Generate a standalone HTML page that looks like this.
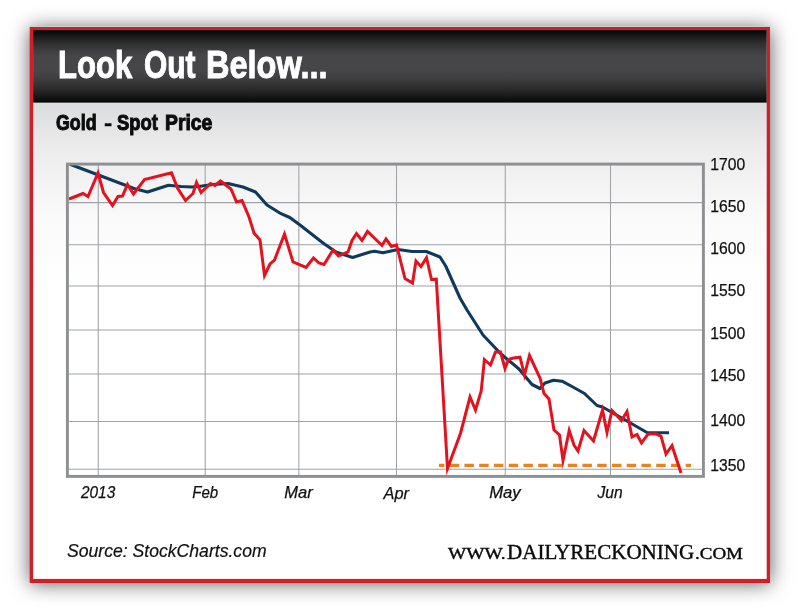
<!DOCTYPE html>
<html lang="en">
<head>
<meta charset="utf-8">
<title>Look Out Below... Gold - Spot Price</title>
<style>
html,body{margin:0;padding:0;background:#fff;}
body{width:800px;height:611px;position:relative;overflow:hidden;font-family:"Liberation Sans",sans-serif;}
#shadow{position:absolute;left:30px;top:27px;width:740px;height:556px;background:#d01f27;box-shadow:0 1.3px 19px 0 rgba(0,0,0,0.65);}
svg{position:absolute;left:0;top:0;}
.t{position:absolute;white-space:nowrap;line-height:1;transform-origin:0 0;}
.ti{top:44.6px;color:#fff;font-weight:bold;font-size:39.5px;-webkit-text-stroke:1.0px #fff;}
.su{top:112.4px;color:#0d0d0d;font-weight:bold;font-size:22.5px;-webkit-text-stroke:1.05px #0d0d0d;}
#src{left:66.8px;top:542.2px;color:#111;font-style:italic;font-size:18.2px;transform:scaleX(0.968);-webkit-text-stroke:0.2px #111;}
.si{color:#0a0a0a;font-family:"Liberation Serif",serif;-webkit-text-stroke:0.4px #0a0a0a;}
</style>
</head>
<body>
<div id="shadow"></div>
<svg width="800" height="611" viewBox="0 0 800 611">
  <defs>
    <linearGradient id="hg" x1="0" y1="0" x2="0" y2="1">
      <stop offset="0" stop-color="#040404"/><stop offset="0.069" stop-color="#161617"/><stop offset="0.138" stop-color="#252526"/>
      <stop offset="0.207" stop-color="#323233"/><stop offset="0.276" stop-color="#3d3d3f"/><stop offset="0.358" stop-color="#464648"/>
      <stop offset="0.551" stop-color="#464648"/><stop offset="0.62" stop-color="#424244"/><stop offset="0.702" stop-color="#3a3a3c"/>
      <stop offset="0.813" stop-color="#2a2a2b"/><stop offset="0.9" stop-color="#1a1a1a"/><stop offset="0.972" stop-color="#0c0c0c"/>
      <stop offset="1" stop-color="#000"/>
    </linearGradient>
    <linearGradient id="bg" gradientUnits="userSpaceOnUse" x1="0" y1="102.6" x2="0" y2="290">
      <stop offset="0" stop-color="#dcddde"/><stop offset="0.02" stop-color="#dcddde"/><stop offset="0.25" stop-color="#ececed"/>
      <stop offset="0.62" stop-color="#fafafa"/><stop offset="1" stop-color="#fff"/>
    </linearGradient>
  </defs>
  <rect x="29.9" y="26" width="740" height="1" fill="#c5d1d1"/>
  <rect x="29.7" y="27" width="740.3" height="555.8" fill="#d01f27"/>
  <rect x="33.1" y="30.1" width="733.6" height="548.8" fill="url(#bg)"/>
  <rect x="33.1" y="30.1" width="733.6" height="72.5" fill="url(#hg)"/>
  <g id="grid" stroke="#a0a2a5" stroke-width="1.05" fill="none">
    <path d="M98.25 165V475M205.2 165V475M298.85 165V475M396.5 165V475M505.25 165V475M610.5 165V475"/>
    <path d="M68 202.6H703M68 244.65H703M68 285.9H703M68 329.9H703M68 374H703M68 421.4H703M68 469.3H703"/>
  </g>
  <path id="support" d="M439 465.4H691" fill="none" stroke="#e8841f" stroke-width="3.1" stroke-dasharray="9.45 5.3" stroke-dashoffset="4.05"/>
  <polyline id="ma" points="70,164.3 134,188.5 147.5,192 168.5,185.2 181,186.5 192,187 202,186 213,184.5 228,183.5 243,187 255.5,192 267,205 281,213.7 289.8,217.5 300,225 323,243 336,252 352.5,257.5 370,252 374.5,251.2 383,252.7 398,249.5 412,251.5 426.3,251.5 440,257 445.7,266 460,298 467,310 483,335 501,354 519,369 532,384.5 540,388.5 545,383 553.5,380.3 562,381.2 572,386.5 584.5,393.5 597,405.5 602.5,407 647,432.5 669,432.8" fill="none" stroke="#0f3a5b" stroke-width="3.1" stroke-linejoin="round"/>
  <polyline id="price" points="69,199 83,193.5 88,196.5 98,173 103.5,192.5 112.5,205.5 118,196.5 122.5,196 127.5,184.5 133.5,194 144.5,179.5 171.5,172.8 177.5,188 185.5,200.5 193,193.5 196.5,182.5 201,192.5 210.5,183.5 215,185.5 220.5,181 231,189 236.5,202 242,200.5 249,217 254,233 260,240 264.5,275.5 270,264 274.5,260 284.5,234 293,262 306,267.5 313.5,258 319,263 324,264.5 333,250 338.5,256 348,252 352,240.5 356.5,233.5 362,240.5 367.5,231.5 382,245.5 386,239 391.5,246.5 396.5,245 405,278.5 412.5,283 416,261 421,266.5 426.5,257.7 431.5,279.5 436.3,279.2 447.5,468.5 460.6,433 470,397 475.5,410 481.2,391 484.4,359.5 490.5,365 495.5,352 500.5,352 505,368.5 508.5,359.5 513.5,358 520,357.2 524.5,375 529.5,355.5 540,378 544,393.5 549,399 554,430 559.5,435 563,460.5 569.2,430.5 574,445 578,451 584,430.5 593.5,441 602.5,410 607,432.5 612,410.5 621.5,420.5 627,411.5 632,437 637,434.5 641.5,443 648,434.2 655.5,433.8 661,436 666,454 672,445.5 681,473" fill="none" stroke="#e2121f" stroke-width="3" stroke-linejoin="miter" stroke-miterlimit="10"/>
  <rect x="67.4" y="164.1" width="636" height="312.3" fill="none" stroke="#8d8f92" stroke-width="2.9"/>
  <g id="ylabels" font-family="'Liberation Sans',sans-serif" font-size="16.6" fill="#111" stroke="#111" stroke-width="0.25">
    <text x="710.3" y="169.5" textLength="34.9" lengthAdjust="spacingAndGlyphs">1700</text>
    <text x="710.3" y="211.8" textLength="34.9" lengthAdjust="spacingAndGlyphs">1650</text>
    <text x="710.3" y="254.1" textLength="34.9" lengthAdjust="spacingAndGlyphs">1600</text>
    <text x="710.3" y="296.3" textLength="34.9" lengthAdjust="spacingAndGlyphs">1550</text>
    <text x="710.3" y="338.6" textLength="34.9" lengthAdjust="spacingAndGlyphs">1500</text>
    <text x="710.3" y="380.9" textLength="34.9" lengthAdjust="spacingAndGlyphs">1450</text>
    <text x="710.3" y="425.9" textLength="34.9" lengthAdjust="spacingAndGlyphs">1400</text>
    <text x="710.3" y="471" textLength="34.9" lengthAdjust="spacingAndGlyphs">1350</text>
  </g>
  <g id="xlabels" font-family="'Liberation Sans',sans-serif" font-size="16.6" font-style="italic" fill="#111" stroke="#111" stroke-width="0.25">
    <text x="81" y="498.2" textLength="34.2" lengthAdjust="spacingAndGlyphs">2013</text>
    <text x="192.2" y="498.2" textLength="26" lengthAdjust="spacingAndGlyphs">Feb</text>
    <text x="284.2" y="498.2" textLength="28.5" lengthAdjust="spacingAndGlyphs">Mar</text>
    <text x="383.5" y="499.2" textLength="25.5" lengthAdjust="spacingAndGlyphs">Apr</text>
    <text x="489.2" y="498.2" textLength="31.5" lengthAdjust="spacingAndGlyphs">May</text>
    <text x="597.5" y="498.2" textLength="25.2" lengthAdjust="spacingAndGlyphs">Jun</text>
  </g>
</svg>
<h1 id="title" style="margin:0;font-size:0"><span class="t ti" style="left:58.4px;transform:scaleX(0.787)">Look</span> <span class="t ti" style="left:144.2px;transform:scaleX(0.758)">Out</span> <span class="t ti" style="left:205.6px;transform:scaleX(0.823)">Below...</span></h1>
<h2 id="sub" style="margin:0;font-size:0"><span class="t su" style="left:56px;transform:scaleX(0.791)">Gold</span> <span class="t su" style="left:103.9px;transform:scaleX(1.1);-webkit-text-stroke-width:0.3px">-</span> <span class="t su" style="left:117.4px;transform:scaleX(0.818)">Spot</span> <span class="t su" style="left:164.95px;transform:scaleX(0.861)">Price</span></h2>
<div class="t" id="src">Source: StockCharts.com</div>
<div id="site" style="font-size:0"><span class="t si" style="left:447.7px;top:545.8px;font-size:16px;transform:scaleX(1.205)">WWW.</span><span class="t si" style="left:507px;top:542.1px;font-size:20.3px;transform:scaleX(1.037)">DAILYRECKONING</span><span class="t si" style="left:694.8px;top:545.8px;font-size:16px;transform:scaleX(1.185)">.COM</span></div>
</body>
</html>
